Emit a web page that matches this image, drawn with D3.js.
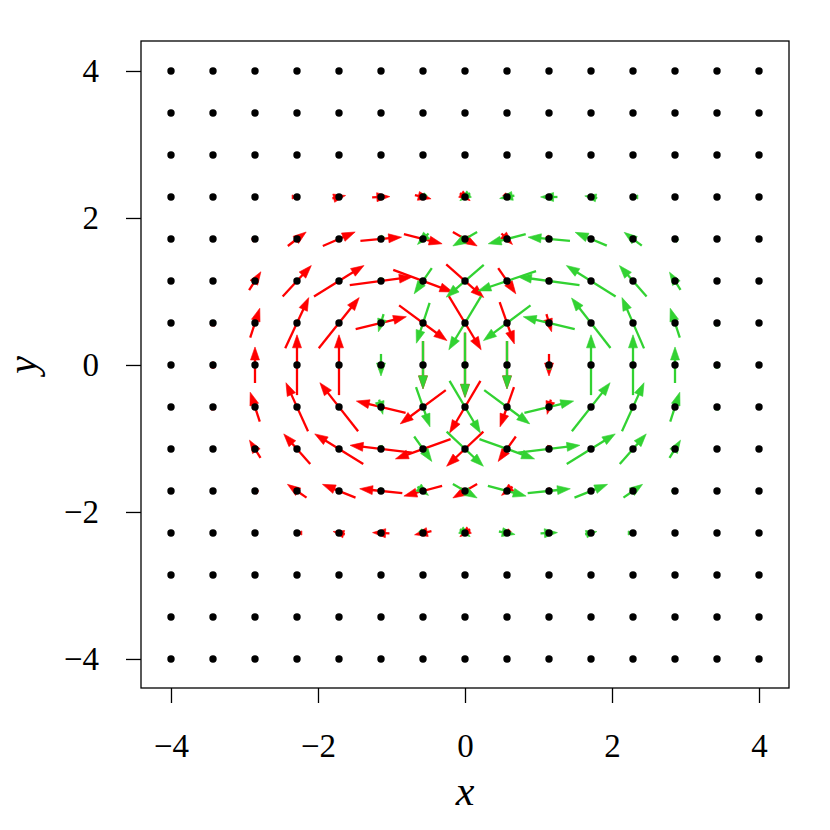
<!DOCTYPE html>
<html>
<head>
<meta charset="utf-8">
<script src="https://cdn.jsdelivr.net/npm/d3@7"></script>
<style>
  html, body { margin: 0; padding: 0; background: #fff; }
  svg { display: block; }
</style>
</head>
<body>
<svg id="chart" width="830" height="830"></svg>
<script>
// ---- data ----
const gridX = [-4, -3.4286, -2.8571, -2.2857, -1.7143, -1.1429, -0.5714, 0, 0.5714, 1.1429, 1.7143, 2.2857, 2.8571, 3.4286, 4];
const gridY = [4, 3.4286, 2.8571, 2.2857, 1.7143, 1.1429, 0.5714, 0, -0.5714, -1.1429, -1.7143, -2.2857, -2.8571, -3.4286, -4];
const xTicks = [-4, -2, 0, 2, 4];
const yTicks = [-4, -2, 0, 2, 4];

// rows follow gridY (top to bottom), columns follow gridX
const redU = [
  [0,0,0,0,0,0,0,0,0,0,0,0,0,0,0],
  [0,0,0,0,0,0,0,0,0,0,0,0,0,0,0],
  [0,0,0,0,0,0,0,0,0,0,0,0,0,0,0],
  [0,0,0,0.03,0.18,0.24,0.22,0.14,0.04,0,0,0,0,0,0],
  [0,0,0.07,0.25,0.44,0.56,0.52,0.33,0.15,0.07,0,0,0,0,0],
  [0,0,0.16,0.39,0.68,0.85,0.81,0.51,0.24,0.02,0,0,0,0,0],
  [0,0.01,0.13,0.32,0.55,0.69,0.65,0.44,0.20,0.07,0,0,0,0,0],
  [0,0,0,0,0,0,0,0,0,0,0,0,0,0,0],
  [0,-0.01,-0.13,-0.30,-0.52,-0.67,-0.62,-0.42,-0.19,-0.05,0,0,0,0,0],
  [0,0,-0.15,-0.36,-0.66,-0.84,-0.75,-0.50,-0.24,-0.01,0,0,0,0,0],
  [0,0,-0.07,-0.26,-0.45,-0.58,-0.52,-0.33,-0.15,-0.05,0,0,0,0,0],
  [0,0,0,-0.03,-0.16,-0.23,-0.23,-0.14,-0.04,0,0,0,0,0,0],
  [0,0,0,0,0,0,0,0,0,0,0,0,0,0,0],
  [0,0,0,0,0,0,0,0,0,0,0,0,0,0,0],
  [0,0,0,0,0,0,0,0,0,0,0,0,0,0,0]
];
const redV = [
  [0,0,0,0,0,0,0,0,0,0,0,0,0,0,0],
  [0,0,0,0,0,0,0,0,0,0,0,0,0,0,0],
  [0,0,0,0,0,0,0,0,0,0,0,0,0,0,0],
  [0,0,0,0,0.04,0.01,-0.05,-0.10,-0.04,0,0,0,0,0,0],
  [0,0,0.04,0.19,0.19,0.05,-0.13,-0.19,-0.15,-0.08,0,0,0,0,0],
  [0,0,0.25,0.42,0.42,0.11,-0.30,-0.45,-0.35,-0.08,0,0,0,0,0],
  [0,0.08,0.40,0.69,0.69,0.17,-0.48,-0.73,-0.57,-0.24,0,0,0,0,0],
  [0,0.10,0.49,0.82,0.82,0.04,-0.65,-0.88,-0.65,-0.30,0,0,0,0,0],
  [0,0.08,0.40,0.66,0.66,0.16,-0.46,-0.71,-0.54,-0.20,0,0,0,0,0],
  [0,0,0.24,0.41,0.41,0.10,-0.27,-0.47,-0.34,-0.07,0,0,0,0,0],
  [0,0,0.04,0.18,0.18,0.06,-0.14,-0.19,-0.12,-0.07,0,0,0,0,0],
  [0,0,0,0,0.04,0.01,-0.05,-0.10,-0.04,0,0,0,0,0,0],
  [0,0,0,0,0,0,0,0,0,0,0,0,0,0,0],
  [0,0,0,0,0,0,0,0,0,0,0,0,0,0,0],
  [0,0,0,0,0,0,0,0,0,0,0,0,0,0,0]
];
const greenU = [
  [0,0,0,0,0,0,0,0,0,0,0,0,0,0,0],
  [0,0,0,0,0,0,0,0,0,0,0,0,0,0,0],
  [0,0,0,0,0,0,0,0,0,0,0,0,0,0,0],
  [0,0,0,0,0,0,-0.04,-0.14,-0.20,-0.23,-0.17,-0.03,0,0,0],
  [0,0,0,0,0,-0.07,-0.15,-0.33,-0.51,-0.57,-0.43,-0.24,-0.06,0,0],
  [0,0,0,0,0,-0.02,-0.24,-0.51,-0.79,-0.83,-0.67,-0.37,-0.15,0,0],
  [0,0,0,0,0,-0.07,-0.18,-0.44,-0.64,-0.70,-0.53,-0.30,-0.13,-0.01,0],
  [0,0,0,0,0,0,0,0,0,0,0,0,0,0,0],
  [0,0,0,0,0,0.05,0.19,0.42,0.62,0.67,0.52,0.30,0.13,0.01,0],
  [0,0,0,0,0,0.01,0.24,0.50,0.75,0.84,0.66,0.36,0.15,0,0],
  [0,0,0,0,0,0.05,0.15,0.33,0.52,0.58,0.45,0.26,0.07,0,0],
  [0,0,0,0,0,0,0.04,0.14,0.22,0.23,0.16,0.03,0,0,0],
  [0,0,0,0,0,0,0,0,0,0,0,0,0,0,0],
  [0,0,0,0,0,0,0,0,0,0,0,0,0,0,0],
  [0,0,0,0,0,0,0,0,0,0,0,0,0,0,0]
];
const greenV = [
  [0,0,0,0,0,0,0,0,0,0,0,0,0,0,0],
  [0,0,0,0,0,0,0,0,0,0,0,0,0,0,0],
  [0,0,0,0,0,0,0,0,0,0,0,0,0,0,0],
  [0,0,0,0,0,0,-0.04,-0.10,-0.04,0,0.03,0,0,0,0],
  [0,0,0,0,0,-0.08,-0.15,-0.19,-0.13,0.05,0.18,0.18,0.04,0,0],
  [0,0,0,0,0,-0.08,-0.35,-0.44,-0.27,0.11,0.42,0.42,0.24,0,0],
  [0,0,0,0,0,-0.24,-0.55,-0.73,-0.48,0.17,0.68,0.69,0.40,0.08,0],
  [0,0,0,0,0,-0.30,-0.65,-0.88,-0.65,0.04,0.82,0.82,0.49,0.10,0],
  [0,0,0,0,0,-0.20,-0.54,-0.71,-0.46,0.16,0.66,0.66,0.40,0.08,0],
  [0,0,0,0,0,-0.07,-0.34,-0.47,-0.27,0.10,0.41,0.41,0.24,0,0],
  [0,0,0,0,0,-0.07,-0.12,-0.19,-0.14,0.06,0.18,0.18,0.04,0,0],
  [0,0,0,0,0,0,-0.04,-0.10,-0.04,0.01,0.04,0,0,0,0],
  [0,0,0,0,0,0,0,0,0,0,0,0,0,0,0],
  [0,0,0,0,0,0,0,0,0,0,0,0,0,0,0],
  [0,0,0,0,0,0,0,0,0,0,0,0,0,0,0]
];

// ---- layout ----
const svg = d3.select("#chart");
const L = 141, R = 789, T = 41, B = 688;
const x = d3.scaleLinear().domain([-4.408, 4.408]).range([L, R]);
const y = d3.scaleLinear().domain([-4.395, 4.408]).range([B, T]);
const serif = "'Liberation Serif', 'DejaVu Serif', serif";
const fmt = d => (d < 0 ? "\u2212" + Math.abs(d) : String(d));

function buildArrows(U, V) {
  const out = [];
  gridY.forEach((gy, r) => gridX.forEach((gx, c) => {
    const u = U[r][c], v = V[r][c];
    if (u === 0 && v === 0) return;
    out.push({x0: gx - u / 2, y0: gy - v / 2, x1: gx + u / 2, y1: gy + v / 2});
  }));
  return out;
}

const headLen = 13, headHalf = 4.5;
function drawArrows(data, color) {
  const g = svg.append("g");
  data.forEach(d => {
    const ax = x(d.x0), ay = y(d.y0), bx = x(d.x1), by = y(d.y1);
    const dx = bx - ax, dy = by - ay, len = Math.hypot(dx, dy);
    if (len < 0.01) return;
    const ux = dx / len, uy = dy / len;
    const hl = Math.min(headLen, Math.max(len * 0.9, 6));
    const hw = headHalf * hl / headLen;
    const baseX = bx - ux * hl, baseY = by - uy * hl;
    if (len > hl) {
      g.append("line").attr("x1", ax).attr("y1", ay).attr("x2", baseX + ux * 1).attr("y2", baseY + uy * 1)
        .attr("stroke", color).attr("stroke-width", 2.3);
    }
    const px = -uy, py = ux;
    g.append("path")
      .attr("d", `M${bx},${by}L${baseX + px * hw},${baseY + py * hw}L${baseX - px * hw},${baseY - py * hw}Z`)
      .attr("fill", color).attr("stroke", color).attr("stroke-width", 0.6);
  });
}

drawArrows(buildArrows(redU, redV), "#ff0000");
drawArrows(buildArrows(greenU, greenV), "#32d232");

// grid dots
const pts = [];
gridY.forEach(gy => gridX.forEach(gx => pts.push([gx, gy])));
svg.append("g").selectAll("circle").data(pts).join("circle")
  .attr("cx", d => x(d[0])).attr("cy", d => y(d[1])).attr("r", 3.7).attr("fill", "#000");

// frame
svg.append("rect").attr("x", L).attr("y", T).attr("width", R - L).attr("height", B - T)
  .attr("fill", "none").attr("stroke", "#000").attr("stroke-width", 1.3);

// axes
const xAxis = svg.append("g").attr("transform", `translate(0,${B})`)
  .call(d3.axisBottom(x).tickValues(xTicks).tickSize(15).tickPadding(31).tickFormat(fmt));
const yAxis = svg.append("g").attr("transform", `translate(${L},0)`)
  .call(d3.axisLeft(y).tickValues(yTicks).tickSize(15).tickPadding(27).tickFormat(fmt));
[xAxis, yAxis].forEach(a => {
  a.select(".domain").remove();
  a.selectAll(".tick line").attr("stroke", "#000").attr("stroke-width", 1.3);
  a.selectAll(".tick text").attr("font-family", serif).attr("font-size", 33).attr("fill", "#000");
});

// axis titles
svg.append("text").attr("x", x(0)).attr("y", 805).attr("text-anchor", "middle")
  .attr("font-family", serif).attr("font-style", "italic").attr("font-size", 42).text("x");
svg.append("text").attr("transform", `translate(36,${y(0)}) rotate(-90)`).attr("text-anchor", "middle")
  .attr("font-family", serif).attr("font-style", "italic").attr("font-size", 40).text("y");
</script>
</body>
</html>
